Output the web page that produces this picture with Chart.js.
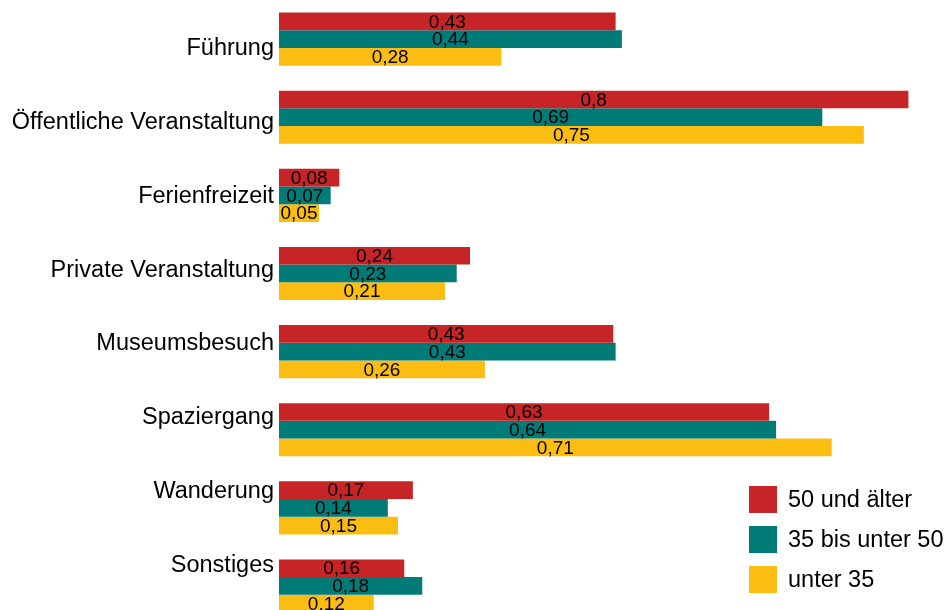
<!DOCTYPE html>
<html>
<head>
<meta charset="utf-8">
<script src="https://cdn.jsdelivr.net/npm/chart.js@4"></script>
<style>
  html, body { margin: 0; padding: 0; background: #fff; overflow: hidden; }
  #wrap { position: relative; width: 946px; height: 625px; }
  #legend { position: absolute; left: 749px; top: 486px; font-family: "Liberation Sans", Arial, sans-serif; font-size: 23.5px; color: #000; }
  .item { display: flex; align-items: center; height: 27px; margin-bottom: 13px; }
  .box { width: 28px; height: 27px; margin-right: 11px; }
</style>
</head>
<body>
<div id="wrap">
  <canvas id="myChart"></canvas>
  <div id="legend"></div>
</div>
<script>
const categories = ['Führung', 'Öffentliche Veranstaltung', 'Ferienfreizeit', 'Private Veranstaltung', 'Museumsbesuch', 'Spaziergang', 'Wanderung', 'Sonstiges']
const seriesNames = ['50 und älter', '35 bis unter 50', 'unter 35']
const colors = ['#C62426', '#007B78', '#FBBD12']

const ab50 = [0.430, 0.804, 0.077, 0.244, 0.427, 0.626, 0.171, 0.160]
const ab35 = [0.438, 0.694, 0.066, 0.227, 0.430, 0.635, 0.139, 0.183]
const unter35 = [0.284, 0.747, 0.051, 0.212, 0.263, 0.706, 0.152, 0.121]
const values = [ab50, ab35, unter35]

const fmt = v => v.toLocaleString('de-DE', { maximumFractionDigits: 2 })

// value labels in the middle of each bar
const barLabels = {
  id: 'barLabels',
  afterDatasetsDraw(chart) {
    const c = chart.ctx
    c.save()
    c.font = '19px "Liberation Sans", Arial, sans-serif'
    c.fillStyle = '#000'
    c.textAlign = 'center'
    c.textBaseline = 'middle'
    chart.data.datasets.forEach((ds, i) => {
      chart.getDatasetMeta(i).data.forEach((bar, j) => {
        const p = bar.getCenterPoint()
        c.fillText(fmt(ds.data[j]), p.x, p.y + 1)
      })
    })
    c.restore()
  }
}

const ctx = document.getElementById('myChart')
new Chart(ctx, {
  type: 'bar',
  data: {
    labels: categories,
    datasets: values.map((d, i) => ({
      label: seriesNames[i],
      data: d,
      backgroundColor: colors[i],
      categoryPercentage: 0.68,
      barPercentage: 1.0
    }))
  },
  options: {
    indexAxis: 'y',
    responsive: true,
    maintainAspectRatio: false,
    animation: false,
    layout: { padding: 0 },
    plugins: { legend: { display: false }, tooltip: { enabled: false } },
    scales: {
      x: { display: false, min: 0, max: 0.852 },
      y: { display: false },
      // separate axis only for the category names (spaced a bit tighter than the bars)
      yl: {
        type: 'linear',
        position: 'left',
        reverse: true,
        offset: false,
        min: -0.657,
        max: 7.805,
        grid: { display: false, drawTicks: false },
        border: { display: false },
        afterBuildTicks: scale => { scale.ticks = categories.map((c, i) => ({ value: i })) },
        afterFit: scale => {
          scale.width = 279
          scale.paddingTop = 0
          scale.paddingBottom = 0
        },
        ticks: {
          autoSkip: false,
          padding: 5,
          color: '#000',
          font: { family: '"Liberation Sans", Arial, sans-serif', size: 23.5 },
          callback: v => categories[v]
        }
      }
    }
  },
  plugins: [barLabels]
})

const legend = document.getElementById('legend')
seriesNames.forEach((name, i) => {
  const row = document.createElement('div')
  row.className = 'item'
  row.innerHTML = '<span class="box" style="background:' + colors[i] + '"></span><span>' + name + '</span>'
  legend.appendChild(row)
})
</script>
</body>
</html>
